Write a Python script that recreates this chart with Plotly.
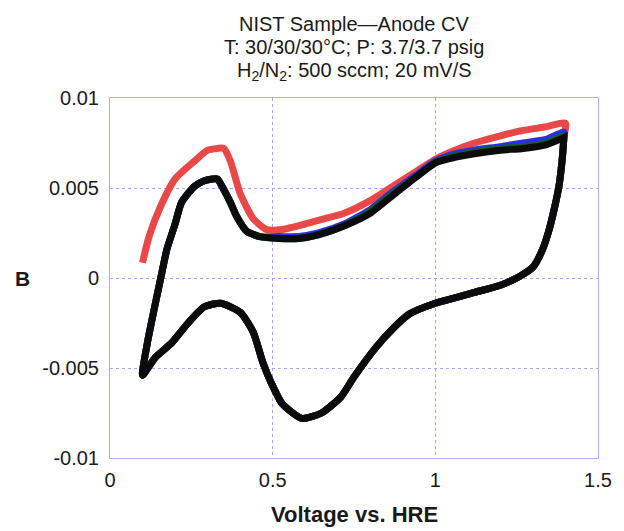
import plotly.graph_objects as go

# Anodic (forward) sweep, shared voltage grid for blue / green / black runs
V_up = [0.10, 0.115, 0.135, 0.156, 0.175, 0.20, 0.22, 0.26, 0.29, 0.315, 0.33, 0.35, 0.37, 0.39,
        0.42, 0.46, 0.52, 0.58, 0.64, 0.72, 0.80, 0.87, 0.94, 1.00, 1.06, 1.12, 1.20, 1.27, 1.34, 1.395]
I_up_black = [-0.0054, -0.0036, -0.0018, 0.0000, 0.0016, 0.0030, 0.0042, 0.0051, 0.0054, 0.0055, 0.0055,
              0.0049, 0.0042, 0.0034, 0.0026, 0.0023, 0.0022, 0.0022, 0.0024, 0.0029, 0.0036, 0.0046,
              0.0056, 0.0064, 0.0067, 0.0069, 0.0071, 0.0072, 0.0074, 0.0078]
I_up_blue = [-0.0054, -0.0036, -0.0018, 0.0000, 0.0016, 0.0030, 0.0042, 0.0051, 0.0054, 0.0055, 0.0055,
             0.0049, 0.0042, 0.0034, 0.0026, 0.0023, 0.0023, 0.0023, 0.0025, 0.0030, 0.0038, 0.0048,
             0.0057, 0.0065, 0.0069, 0.0071, 0.0073, 0.0075, 0.0077, 0.0081]
I_up_green = [-0.0054, -0.0036, -0.0018, 0.0000, 0.0016, 0.0030, 0.0042, 0.0051, 0.0054, 0.0055, 0.0055,
              0.0049, 0.0042, 0.0034, 0.0026, 0.0023, 0.0022, 0.0022, 0.0024, 0.0029, 0.0037, 0.0047,
              0.0056, 0.0064, 0.0068, 0.0070, 0.0072, 0.0073, 0.0075, 0.0079]

# Anodic sweep of the first (red) run
V_up_red = [0.10, 0.12, 0.156, 0.20, 0.26, 0.30, 0.33, 0.35, 0.37, 0.40, 0.44, 0.48, 0.53, 0.60, 0.66,
            0.72, 0.80, 0.87, 0.94, 1.00, 1.06, 1.12, 1.20, 1.27, 1.34, 1.40]
I_up_red = [0.00085, 0.0023, 0.0040, 0.0055, 0.0065, 0.0071, 0.0072, 0.0072, 0.0065, 0.0047, 0.0033,
            0.0027, 0.0027, 0.0030, 0.0033, 0.0036, 0.0043, 0.0051, 0.0059, 0.0066, 0.0071, 0.0075,
            0.0079, 0.0082, 0.0084, 0.0086]

# Cathodic (return) sweep, common to all runs
V_down = [1.395, 1.39, 1.38, 1.365, 1.35, 1.33, 1.30, 1.26, 1.20, 1.12, 1.06, 1.00, 0.92, 0.87, 0.82,
          0.75, 0.71, 0.65, 0.59, 0.53, 0.495, 0.47, 0.44, 0.40, 0.34, 0.29, 0.24, 0.19, 0.14, 0.10]
I_down = [0.0078, 0.0066, 0.0051, 0.0038, 0.0027, 0.0016, 0.0006, 0.0001, -0.0004, -0.0008, -0.0011,
          -0.0014, -0.0020, -0.0028, -0.0038, -0.0055, -0.0066, -0.0075, -0.0078, -0.0070, -0.0058,
          -0.0047, -0.0030, -0.0019, -0.0014, -0.0016, -0.0025, -0.0036, -0.0044, -0.0054]

x_ticks = [0, 0.5, 1, 1.5]
x_ticklabels = ["0", "0.5", "1", "1.5"]
y_ticks = [-0.01, -0.005, 0, 0.005, 0.01]
y_ticklabels = ["-0.01", "-0.005", "0", "0.005", "0.01"]

series = [
    ("red", V_up_red, I_up_red, "rgb(232,72,72)"),
    ("blue", V_up, I_up_blue, "rgb(45,45,225)"),
    ("green", V_up, I_up_green, "rgb(20,95,45)"),
    ("black", V_up, I_up_black, "rgb(12,12,12)"),
]

fig = go.Figure()
for name, vu, iu, col in series:
    fig.add_trace(go.Scatter(
        x=list(vu) + V_down, y=list(iu) + I_down,
        mode="lines", name=name,
        line=dict(color=col, width=7, shape="spline", smoothing=0.6),
        showlegend=False,
    ))

font_family = "Liberation Sans, Arial, sans-serif"
grid_col = "rgb(165,165,250)"
frame_col = "rgb(175,175,240)"

fig.update_layout(
    width=624, height=531,
    margin=dict(l=110, r=14, t=98, b=73),
    paper_bgcolor="white", plot_bgcolor="white",
    font=dict(family=font_family, size=20, color="#1a1a1a"),
    xaxis=dict(range=[0, 1.5], tickvals=x_ticks, ticktext=x_ticklabels,
               showgrid=True, gridcolor=grid_col, griddash="dot", gridwidth=1,
               showline=True, linecolor=frame_col, linewidth=1, mirror=True,
               zeroline=False, ticks="", ticklabelstandoff=4),
    yaxis=dict(range=[-0.01, 0.01], tickvals=y_ticks, ticktext=y_ticklabels,
               showgrid=True, gridcolor=grid_col, griddash="dot", gridwidth=1,
               showline=True, linecolor=frame_col, linewidth=1, mirror=True,
               zeroline=False, ticks="", ticklabelstandoff=6),
    annotations=[
        dict(text="NIST Sample\u2014Anode CV", xref="paper", yref="paper", x=0.5, y=1.0,
             yshift=74, showarrow=False, font=dict(size=20), xanchor="center", yanchor="middle"),
        dict(text="T: 30/30/30\u00b0C; P: 3.7/3.7 psig", xref="paper", yref="paper", x=0.5, y=1.0,
             yshift=51, showarrow=False, font=dict(size=20), xanchor="center", yanchor="middle"),
        dict(text="H<sub>2</sub>/N<sub>2</sub>: 500 sccm; 20 mV/S", xref="paper", yref="paper",
             x=0.5, y=1.0, yshift=27, showarrow=False, font=dict(size=20), xanchor="center",
             yanchor="middle"),
        dict(text="<b>B</b>", xref="paper", yref="paper", x=-0.18, y=0.5, showarrow=False,
             font=dict(size=21), xanchor="center", yanchor="middle"),
        dict(text="<b>Voltage vs. HRE</b>", xref="paper", yref="paper", x=0.5, y=0,
             yshift=-56, showarrow=False, font=dict(size=22), xanchor="center", yanchor="middle"),
    ],
)

fig.write_html("out.html")
